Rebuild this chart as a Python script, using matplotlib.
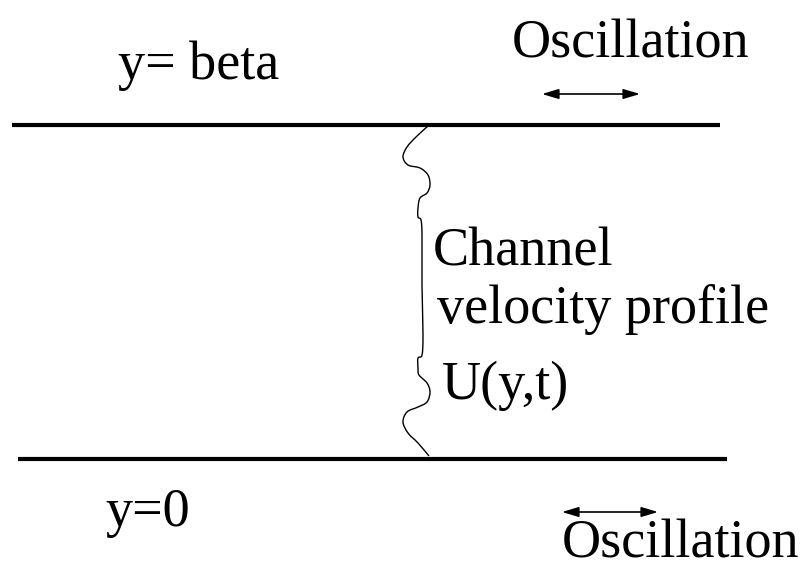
import matplotlib
matplotlib.use("Agg")
import matplotlib.pyplot as plt
from matplotlib.path import Path
from matplotlib.patches import PathPatch

# walls (pixel coords of the drawing)
top_wall = (12, 720, 125)
bottom_wall = (18, 727, 459)

# wavy velocity profile between the walls
profile_x = [428, 416, 407, 403, 408, 420, 428, 430, 427, 420, 418, 418, 421, 422,
             422, 423, 422, 418, 418, 419, 427, 430, 427, 418, 407, 403, 408, 418, 429]
profile_y = [126, 137, 147, 157, 165, 168, 175, 185, 193, 198, 208, 217, 220, 235,
             285, 335, 355, 358, 368, 375, 383, 392, 402, 407, 412, 422, 433, 443, 456]

labels = ["y= beta", "Oscillation", "Channel", "velocity profile", "U(y,t)", "y=0", "Oscillation"]
label_x = [118, 512, 433, 437, 442, 105, 562]
label_y = [79, 58, 265, 323, 399, 526, 557]

arrows = [(542, 640, 94), (562, 658, 512)]

fig = plt.figure(figsize=(8.04, 5.70), dpi=100)
ax = fig.add_axes([0, 0, 1, 1])
ax.set_xlim(0, 804)
ax.set_ylim(570, 0)
ax.axis("off")

for x0, x1, y in (top_wall, bottom_wall):
    ax.plot([x0, x1], [y, y], color="black", lw=3, solid_capstyle="butt")

# smooth curve through the profile points (Catmull-Rom as cubic Bezier)
pts = list(zip(profile_x, profile_y))
verts = [pts[0]]
codes = [Path.MOVETO]
for i in range(len(pts) - 1):
    p0 = pts[i - 1] if i > 0 else pts[i]
    p1 = pts[i]
    p2 = pts[i + 1]
    p3 = pts[i + 2] if i + 2 < len(pts) else pts[i + 1]
    c1 = (p1[0] + (p2[0] - p0[0]) / 6, p1[1] + (p2[1] - p0[1]) / 6)
    c2 = (p2[0] - (p3[0] - p1[0]) / 6, p2[1] - (p3[1] - p1[1]) / 6)
    verts += [c1, c2, p2]
    codes += [Path.CURVE4] * 3
ax.add_patch(PathPatch(Path(verts, codes), fill=False, lw=1.0, edgecolor="black"))

for x0, x1, y in arrows:
    ax.annotate("", xy=(x1, y), xytext=(x0, y),
                arrowprops=dict(arrowstyle="<|-|>,head_length=1.0,head_width=0.3",
                                color="black", lw=1.2, shrinkA=0, shrinkB=0))

for txt, x, y in zip(labels, label_x, label_y):
    ax.text(x, y, txt, fontsize=39, family="Liberation Serif", ha="left", va="baseline")

fig.savefig("out.png", dpi=100)
